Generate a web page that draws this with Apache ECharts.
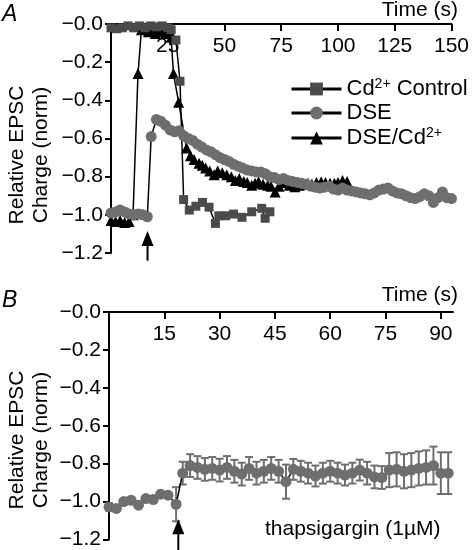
<!DOCTYPE html>
<html><head><meta charset="utf-8">
<script src="https://cdn.jsdelivr.net/npm/echarts@6/dist/echarts.min.js"></script>
<style>html,body{margin:0;padding:0;background:#fff}#c{width:472px;height:550px}</style>
</head><body><div id="c"></div>
<script>
// ---------- Panel A data ----------
const seriesNamesA = ['Cd2+ Control', 'DSE', 'DSE/Cd2+'];
const cdT = [0,2.5,5,7.5,10,12.5,15,17.5,20,22.5,25,26.5,28.6,30.4,32,34.5,37.4,40.3,43.2,46,47.5,50.5,54,57.7,62,66.4,67.9,70];
const cdV = [-0.02,-0.025,-0.02,-0.01,-0.02,-0.01,-0.02,-0.01,-0.015,-0.01,-0.02,-0.03,-0.084,-0.30,-0.92,-0.975,-0.955,-0.935,-0.96,-1.045,-1.005,-1.005,-0.996,-1.013,-0.984,-0.966,-1.018,-0.984];

const dseT = [0,2,4,6,8,10,12,14,16,17.7,20,22,24,26,28,30,32,34,36,38,40,42,44,46,48,50,52,54,56,58,60,62,64,66,68,70,72,74,76,78,80,82,84,86,88,90,92,94,96,98,100,102,104,106,108,110,112,114,116,118,120,122,124,126,128,130,132,134,136,138,140,142,144,146,148,150];
const dseV = [-0.99,-0.985,-0.975,-0.985,-0.995,-1.0,-0.995,-1.0,-1.01,-0.59,-0.50,-0.51,-0.53,-0.555,-0.565,-0.56,-0.585,-0.60,-0.61,-0.63,-0.645,-0.66,-0.67,-0.685,-0.70,-0.71,-0.72,-0.735,-0.745,-0.755,-0.765,-0.77,-0.775,-0.775,-0.785,-0.80,-0.805,-0.815,-0.81,-0.82,-0.825,-0.83,-0.835,-0.84,-0.85,-0.855,-0.86,-0.855,-0.85,-0.865,-0.87,-0.86,-0.87,-0.875,-0.88,-0.885,-0.89,-0.895,-0.885,-0.87,-0.865,-0.86,-0.875,-0.885,-0.89,-0.90,-0.91,-0.915,-0.905,-0.89,-0.90,-0.935,-0.91,-0.88,-0.91,-0.915];

const triT = [0,2,4,6,8,9.7,11.9,13.4,15,16.5,18,19.5,21,22.5,24,25.5,26.5,27.5,29.8,33.3,35,36.6,38.8,40.2,41.7,43.5,45.4,47,49,51,53,54.8,56.5,58.5,60,62,63.5,65,67,69,70.5,72.3,74,76.6,78.5,81,83,84.8,86.8,88.5,90.5,92.6,94.5,96.5,98.4,100,102,104];
const triV = [-1.03,-1.035,-1.03,-1.04,-1.035,-1.0,-0.26,-0.03,-0.02,-0.04,-0.03,-0.05,-0.04,-0.03,-0.05,-0.04,-0.07,-0.26,-0.41,-0.65,-0.69,-0.71,-0.73,-0.74,-0.755,-0.77,-0.79,-0.77,-0.78,-0.79,-0.80,-0.82,-0.81,-0.825,-0.83,-0.845,-0.835,-0.826,-0.84,-0.845,-0.85,-0.88,-0.85,-0.83,-0.845,-0.853,-0.845,-0.84,-0.835,-0.84,-0.83,-0.826,-0.83,-0.835,-0.835,-0.83,-0.82,-0.825];

// ---------- Panel B data ----------
const thT = [0,2,4,6,8,10,12,14,16,18.2,20,22,24,26,28,30,32,34,36,38,40,42,44,46,48,50,52,54,56,58,60,62,64,66,68,70,72,74,76,78,80,82,84,86,88,90,92];
const thV = [-1.028,-1.036,-1.0,-0.993,-1.019,-0.984,-0.989,-0.961,-0.966,-1.014,-0.85,-0.81,-0.82,-0.83,-0.825,-0.834,-0.82,-0.84,-0.855,-0.825,-0.85,-0.84,-0.825,-0.84,-0.895,-0.83,-0.84,-0.85,-0.865,-0.85,-0.84,-0.85,-0.86,-0.85,-0.834,-0.85,-0.87,-0.873,-0.834,-0.83,-0.84,-0.834,-0.825,-0.82,-0.81,-0.85,-0.85];
const thErr = [0.02,0.01,0.01,0.01,0.01,0.01,0.01,0.01,0.01,0.09,0.06,0.06,0.06,0.06,0.06,0.06,0.06,0.06,0.06,0.06,0.06,0.06,0.06,0.06,0.09,0.055,0.055,0.055,0.055,0.055,0.055,0.055,0.055,0.055,0.055,0.06,0.06,0.06,0.09,0.09,0.09,0.09,0.09,0.09,0.1,0.11,0.11];

// ---------- axes / annotations ----------
const xTicksA = [25,50,75,100,125,150];
const xTicksB = [15,30,45,60,75,90];
const arrowA = [16.1, -1.085, -1.24];
const arrowB = [18.8, -1.093, -1.256];

const FONT = '"Liberation Sans", Arial, Helvetica, sans-serif';
const zip = (a, b) => a.map((v, i) => [v, b[i]]);
const fmtY = v => '\u2212' + Math.abs(v).toFixed(1);
const GREY = '#6e6e6e', DARK = '#4b4b4b';

function xAxis(gi, max, ticks) {
  return {
    type: 'value', gridIndex: gi, position: 'top', min: 0, max: max,
    axisLine: { onZero: false, lineStyle: { color: '#000', width: 2 } },
    axisTick: { inside: true, length: 7, lineStyle: { width: 2, color: '#000' }, customValues: ticks },
    axisLabel: { inside: true, margin: 12, color: '#000', fontSize: 21, fontFamily: FONT, customValues: ticks },
    splitLine: { show: false }
  };
}
function yAxis(gi) {
  return {
    type: 'value', gridIndex: gi, min: -1.2, max: 0, interval: 0.2,
    axisLine: { onZero: false, lineStyle: { color: '#000', width: 2 } },
    axisTick: { inside: false, length: 6, lineStyle: { width: 2, color: '#000' } },
    axisLabel: { margin: 8, color: '#000', fontSize: 21, fontFamily: FONT, formatter: fmtY },
    splitLine: { show: false }
  };
}
function arrowRender(params, api) {
  const tip = api.coord([api.value(0), api.value(1)]);
  const tail = api.coord([api.value(0), api.value(2)]);
  return { type: 'group', children: [
    { type: 'line', shape: { x1: tip[0], y1: tip[1] + 10, x2: tail[0], y2: tail[1] }, style: { stroke: '#000', lineWidth: 2 } },
    { type: 'polygon', shape: { points: [[tip[0], tip[1]], [tip[0] - 6, tip[1] + 15], [tip[0] + 6, tip[1] + 15]] }, style: { fill: '#000' } }
  ]};
}
function errRender(params, api) {
  const x = api.value(0);
  const p1 = api.coord([x, api.value(1)]);
  const p2 = api.coord([x, api.value(2)]);
  const w = 4, st = { stroke: GREY, lineWidth: 2 };
  return { type: 'group', children: [
    { type: 'line', shape: { x1: p1[0], y1: p1[1], x2: p2[0], y2: p2[1] }, style: st },
    { type: 'line', shape: { x1: p1[0] - w, y1: p1[1], x2: p1[0] + w, y2: p1[1] }, style: st },
    { type: 'line', shape: { x1: p2[0] - w, y1: p2[1], x2: p2[0] + w, y2: p2[1] }, style: st }
  ]};
}

const chart = echarts.init(document.getElementById('c'), null, { renderer: 'canvas' });
const txt = (o) => Object.assign({ fill: '#000', fontFamily: FONT, fontSize: 21 }, o);
chart.setOption({
  animation: false,
  backgroundColor: '#fff',
  grid: [
    { left: 111, top: 24, width: 344, height: 229 },
    { left: 109, top: 312, width: 344, height: 228 }
  ],
  xAxis: [xAxis(0, 150, xTicksA), xAxis(1, 93.3, xTicksB)],
  yAxis: [yAxis(0), yAxis(1)],
  legend: {
    left: 285, top: 72, orient: 'vertical', itemWidth: 50, itemHeight: 16, itemGap: 2,
    data: seriesNamesA,
    lineStyle: { width: 3, color: '#000' },
    formatter: n => n.replace(/2\+/g, '{s|2+}').replace(/^([^{]*)\{/, '{n|$1}{').replace(/\}([^{}]+)$/, '}{n|$1}').replace(/^([^{]+)$/, '{n|$1}'),
    textStyle: { color: '#000', fontFamily: FONT, fontSize: 22,
      rich: { n: { fontSize: 22, lineHeight: 24, fontFamily: FONT, color: '#000' },
              s: { fontSize: 14, lineHeight: 14, verticalAlign: 'top', fontFamily: FONT, color: '#000' } } }
  },
  graphic: [
    { type: 'text', left: 2, top: 3, style: txt({ text: 'A', fontSize: 23, fontStyle: 'italic' }) },
    { type: 'text', left: 2, top: 289, style: txt({ text: 'B', fontSize: 23, fontStyle: 'italic' }) },
    { type: 'text', right: 14, top: 0, style: txt({ text: 'Time (s)' }) },
    { type: 'text', right: 14, top: 285, style: txt({ text: 'Time (s)' }) },
    { type: 'text', left: 265, top: 519, style: txt({ text: 'thapsigargin (1\u00b5M)' }) },
    { type: 'text', x: 17, y: 155, rotation: Math.PI / 2, style: txt({ text: 'Relative EPSC', align: 'center', verticalAlign: 'middle' }) },
    { type: 'text', x: 41, y: 155, rotation: Math.PI / 2, style: txt({ text: 'Charge (norm)', align: 'center', verticalAlign: 'middle' }) },
    { type: 'text', x: 17, y: 440, rotation: Math.PI / 2, style: txt({ text: 'Relative EPSC', align: 'center', verticalAlign: 'middle' }) },
    { type: 'text', x: 41, y: 440, rotation: Math.PI / 2, style: txt({ text: 'Charge (norm)', align: 'center', verticalAlign: 'middle' }) }
  ],
  series: [
    { name: 'DSE/Cd2+', type: 'line', xAxisIndex: 0, yAxisIndex: 0, data: zip(triT, triV), z: 3,
      symbol: 'triangle', symbolSize: 11, itemStyle: { color: '#000' }, lineStyle: { color: '#000', width: 1.5 } },
    { name: 'Cd2+ Control', type: 'line', xAxisIndex: 0, yAxisIndex: 0, data: zip(cdT, cdV), z: 4,
      symbol: 'rect', symbolSize: 9, itemStyle: { color: DARK }, lineStyle: { color: '#000', width: 1.5 } },
    { name: 'DSE', type: 'line', xAxisIndex: 0, yAxisIndex: 0, data: zip(dseT, dseV), z: 5,
      symbol: 'circle', symbolSize: 11, itemStyle: { color: GREY }, lineStyle: { color: '#000', width: 1.5 } },
    { type: 'custom', xAxisIndex: 0, yAxisIndex: 0, clip: false, renderItem: arrowRender, data: [arrowA], z: 6, silent: true },
    { type: 'custom', xAxisIndex: 1, yAxisIndex: 1, renderItem: errRender, z: 3, silent: true,
      data: thT.map((t, i) => [t, thV[i] - thErr[i], thV[i] + thErr[i]]), encode: { x: 0, y: [1, 2] } },
    { name: 'thapsigargin', type: 'line', xAxisIndex: 1, yAxisIndex: 1, data: zip(thT, thV), z: 4,
      symbol: 'circle', symbolSize: 11, itemStyle: { color: GREY }, lineStyle: { color: '#000', width: 1.5 } },
    { type: 'custom', xAxisIndex: 1, yAxisIndex: 1, clip: false, renderItem: arrowRender, data: [arrowB], z: 6, silent: true }
  ]
});
</script></body></html>
